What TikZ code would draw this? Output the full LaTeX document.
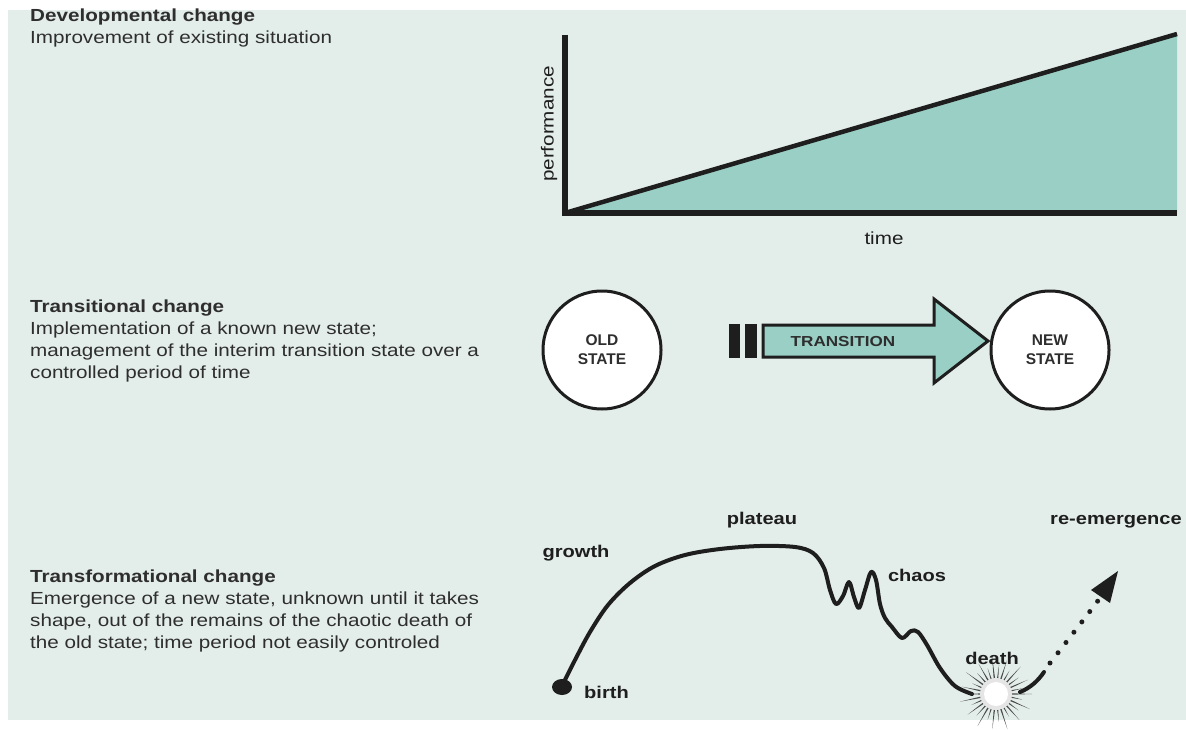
\documentclass[tikz,border=0pt]{standalone}
\usepackage{fontspec}
\setmainfont{Liberation Sans}[FakeStretch=1.18]
\newfontfamily\plainsans{Liberation Sans}
\usetikzlibrary{arrows.meta,calc}
\definecolor{panel}{HTML}{E3EDEA}
\definecolor{teal}{HTML}{99CFC5}
\definecolor{ink}{HTML}{1E1E1E}
\definecolor{txt}{HTML}{2E2E2E}
\begin{document}
\begin{tikzpicture}[x=1pt,y=-1pt,
  desc/.style={anchor=north west,align=left,text=txt,inner sep=0pt,
    font=\fontsize{17.5}{22}\selectfont},
  statecirc/.style={circle,draw=ink,line width=3,fill=white,minimum size=118,
    align=center,text=txt,font=\plainsans\fontsize{15.5}{19}\selectfont\bfseries},
  lbl/.style={text=ink,inner sep=0pt,font=\fontsize{17}{20}\selectfont\bfseries},
  thick line/.style={draw=ink,line width=4,line cap=round,line join=round}]
\useasboundingbox (0,0) rectangle (1186,730);
\fill[white] (0,0) rectangle (1186,730);
\fill[panel] (8,10) rectangle (1186,720);

% ---------- texts ----------
\node[desc] (t1) at (30,8.5) {{\bfseries Developmental change}\\Improvement of existing situation};
\node[desc] (t2) at (30,300) {{\bfseries Transitional change}\\Implementation of a known new state;\\management of the interim transition state over a\\controlled period of time};
\node[desc] (t3) at (30,570) {{\bfseries Transformational change}\\Emergence of a new state, unknown until it takes\\shape, out of the remains of the chaotic death of\\the old state; time period not easily controled};

% ---------- developmental graph ----------
\coordinate (o) at (565,213);
\coordinate (ytop) at (565,35);
\coordinate (xend) at (1177,213);
\coordinate (dend) at (1177,34);
\fill[teal] (o) -- (dend) -- (xend) -- cycle;
\draw[ink,line width=4.5] (o) -- (dend);
\draw[ink,line width=6] (ytop) -- (o) -- (xend);
\node[text=ink,inner sep=0pt,rotate=90,font=\fontsize{17.5}{20}\selectfont] (perf) at (549,124) {performance};
\node[text=ink,inner sep=0pt,font=\fontsize{17.5}{20}\selectfont] (time) at (884,238) {time};

% ---------- transitional ----------
\node[statecirc] (old) at (602,350) {OLD\\STATE};
\node[statecirc] (new) at (1050,350) {NEW\\STATE};
\fill[ink] (729,324) rectangle (740,358);
\fill[ink] (745,324) rectangle (757,358);
\draw[fill=teal,draw=ink,line width=3,line join=miter]
  (763,325) -- (934,325) -- (934,299) -- (988,341) -- (934,383) -- (934,357) -- (763,357) -- cycle;
\node[text=txt,font=\fontsize{14.5}{16}\selectfont\bfseries] (trans) at (843,342) {TRANSITION};

% ---------- transformational curve ----------
\fill[ink] (562,687) ellipse (10 and 8);
\draw[thick line] plot[smooth,tension=0.55] coordinates {
 (563,684) (575,660) (590,632) (608,605) (630,583) (655,566) (685,555)
 (720,549) (760,546) (795,547) (813,553) (824,568) (830,590) (836,604)
 (843,596) (849,582) (854,597) (859,608) (865,590) (871,572) (876,580)
 (880,604) (885,618) (892,627) (902,638) (911,631) (918,632) (927,645)
 (940,668) (955,686) (972,694)};
% starburst
\coordinate (death) at (996,694);
\foreach \a/\l in {0/36,12/27,24/37,36/28,48/35,60/26,72/37,84/28,96/35,108/27,120/37,132/29,
                   144/35,156/27,168/37,180/28,192/35,204/26,216/37,228/28,240/35,252/27,264/37,276/29,
                   288/35,300/27,312/37,324/28,336/35,348/27}{
  \fill[black!70] ($(death)+(\a-6:9)$) -- ($(death)+(\a:\l)$) -- ($(death)+(\a+6:9)$) -- cycle;
}
\fill[white!80!gray] (death) circle (16);
\fill[white] (death) circle (12);
\draw[thick line] (1020,692) .. controls (1030,688) and (1038,681) .. (1044,672);
\draw[ink,line width=5,line cap=round,dash pattern=on 0pt off 13pt]
  (1050,663) .. controls (1068,640) and (1085,618) .. (1100,598);
\fill[ink] (1118,571) -- (1091,590) -- (1110,603) -- cycle;

\node[lbl] (growth) at (576,553) {growth};
\node[lbl] (plateau) at (762,520) {plateau};
\node[lbl] (chaos) at (917,575) {chaos};
\node[lbl] (deathl) at (992,658) {death};
\node[lbl,anchor=west] (birth) at (584,692) {birth};
\node[lbl,anchor=east] (reem) at (1182,522) {re-emergence};
\end{tikzpicture}
\end{document}
